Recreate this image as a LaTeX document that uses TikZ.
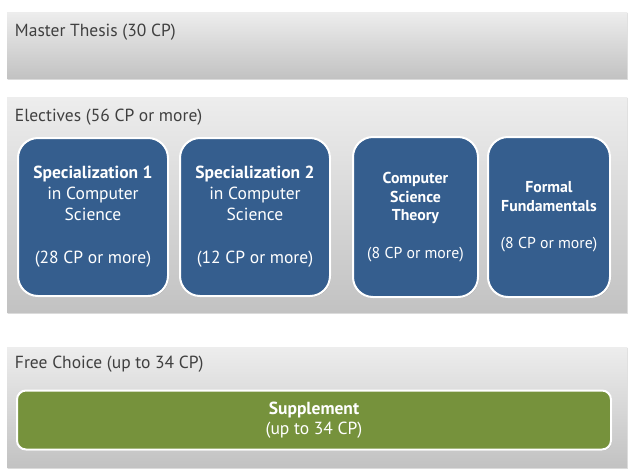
\documentclass[tikz,border=0pt]{standalone}
\usepackage{fontspec}
\setmainfont{PT Sans}
\usepackage{xcolor}
\usetikzlibrary{positioning,shapes.misc,shadows}

\definecolor{modblue}{RGB}{53,94,142}
\definecolor{suppgreen}{RGB}{118,146,60}
\definecolor{bandtext}{RGB}{64,64,64}

\tikzset{
  band/.style={chamfered rectangle,chamfered rectangle corners=north east,
    chamfered rectangle xsep=7pt,inner sep=0pt,draw=none,
    top color=gray!14,bottom color=gray!48,
    drop shadow={opacity=0.25,shadow xshift=0.8pt,shadow yshift=-0.8pt}},
  bandlabel/.style={anchor=west,inner sep=0pt,text=bandtext,
    font=\fontsize{17.5}{20}\selectfont},
  module/.style={rectangle,rounded corners=20pt,draw=white,line width=2pt,
    fill=modblue,text=white,align=center,minimum height=158pt,
    font=\fontsize{17.5}{21}\selectfont,
    drop shadow={opacity=0.3,shadow xshift=1pt,shadow yshift=-1pt}},
  smallmodule/.style={module,font=\fontsize{15.8}{18.5}\selectfont},
  supp/.style={rectangle,rounded corners=9pt,draw=white,line width=2pt,
    fill=suppgreen,text=white,align=center,
    font=\fontsize{17.5}{20}\selectfont,
    drop shadow={opacity=0.3,shadow xshift=1pt,shadow yshift=-1pt}}
}

\begin{document}
\begin{tikzpicture}[x=1pt,y=-1pt]
\useasboundingbox (0,0) rectangle (633,475);

% the three bands
\node[band,minimum width=620pt,minimum height=67pt] (thesis) at (317,45.5){};
\node[band,minimum width=620pt,minimum height=216pt] (electives) at (317,205){};
\node[band,minimum width=620pt,minimum height=121pt] (free) at (317,407.5){};

\node[bandlabel] (thesislbl) at ([xshift=8pt,yshift=-20pt]thesis.north west){Master Thesis (30 CP)};
\node[bandlabel] (electlbl) at ([xshift=8pt,yshift=-20pt]electives.north west){Electives (56 CP or more)};
\node[bandlabel] (freelbl) at ([xshift=8pt,yshift=-17pt]free.north west){Free Choice (up to 34 CP)};

% electives
\node[module,minimum width=150pt] (spec1) at (93,217)
  {\textbf{Specialization 1}\\in Computer\\Science\\[22pt](28 CP or more)};
\node[module,minimum width=150pt] (spec2) at (255,217)
  {\textbf{Specialization 2}\\in Computer\\Science\\[22pt](12 CP or more)};
\node[smallmodule,minimum width=125pt,minimum height=160pt] (theory) at (415.5,217)
  {\textbf{Computer}\\\textbf{Science}\\\textbf{Theory}\\[19pt](8 CP or more)};
\node[smallmodule,minimum width=122pt,minimum height=160pt] (formal) at (549,217)
  {\textbf{Formal}\\\textbf{Fundamentals}\\[19pt](8 CP or more)};

% free choice
\node[supp,minimum width=594pt,minimum height=59pt] (supplement) at (314,420)
  {\textbf{Supplement}\\(up to 34 CP)};

\end{tikzpicture}
\end{document}
